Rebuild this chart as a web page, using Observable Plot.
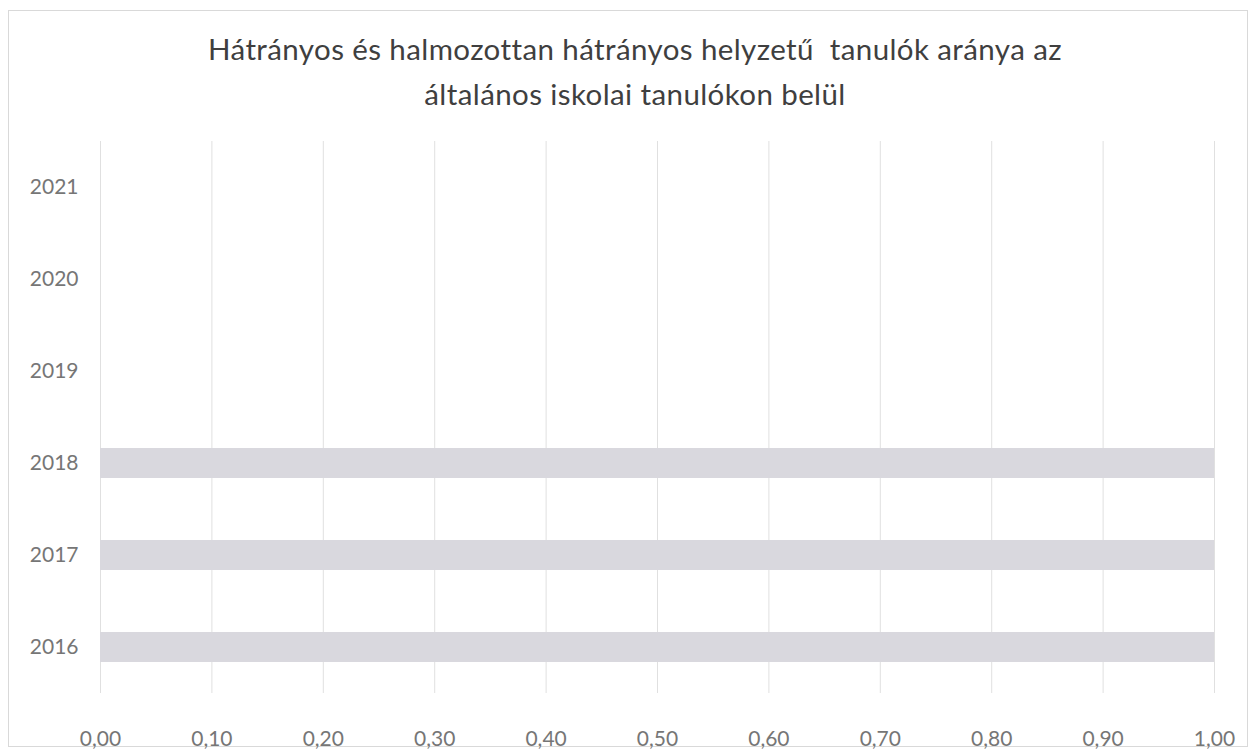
<!DOCTYPE html>
<html>
<head>
<meta charset="utf-8">
<script src="https://cdn.jsdelivr.net/npm/d3@7"></script>
<script src="https://cdn.jsdelivr.net/npm/@observablehq/plot@0.6"></script>
<style>
  html, body { margin: 0; padding: 0; background: #fff; }
  #frame { position: absolute; left: 8px; top: 10px; width: 1240px; height: 737px; border: 1px solid #d9d9d9; box-sizing: border-box; }
  #title { position: absolute; left: 0; top: 26px; width: 1270px; text-align: center; font-family: Lato, sans-serif; font-size: 29.5px; letter-spacing: 0.4px; line-height: 45px; color: #3f3f3f; }
  #chart { position: absolute; left: 0; top: 130px; }
</style>
</head>
<body>
<div id="frame"></div>
<div id="title">Hátrányos és halmozottan hátrányos helyzetű&nbsp; tanulók aránya az<br>általános iskolai tanulókon belül</div>
<div id="chart"></div>
<script>
const years = ["2016", "2017", "2018", "2019", "2020", "2021"];
const values = [1.0, 1.0, 1.0, null, null, null];
const xTicks = [0, 0.1, 0.2, 0.3, 0.4, 0.5, 0.6, 0.7, 0.8, 0.9, 1.0];

const data = years.map((y, i) => ({year: y, value: values[i]})).filter(d => d.value != null);
const fmt = v => v.toFixed(2).replace(".", ",");

const chart = Plot.plot({
  width: 1255,
  height: 620,
  marginLeft: 100,
  marginRight: 41,
  marginTop: 11,
  marginBottom: 57,
  style: {fontFamily: "Lato, sans-serif", fontSize: "21px", color: "#767676", background: "transparent"},
  x: {domain: [0, 1], ticks: xTicks, tickFormat: fmt, tickSize: 0, tickPadding: 38, label: null},
  y: {domain: years.slice().reverse(), tickSize: 0, tickPadding: 22, label: null, paddingInner: 0.67, paddingOuter: 0.335},
  marks: [
    Plot.ruleX(xTicks, {stroke: "#e0e0e0", strokeWidth: 1}),
    Plot.barX(data, {x: "value", y: "year", fill: "#d9d8de"})
  ]
});
document.getElementById("chart").appendChild(chart);
</script>
</body>
</html>
